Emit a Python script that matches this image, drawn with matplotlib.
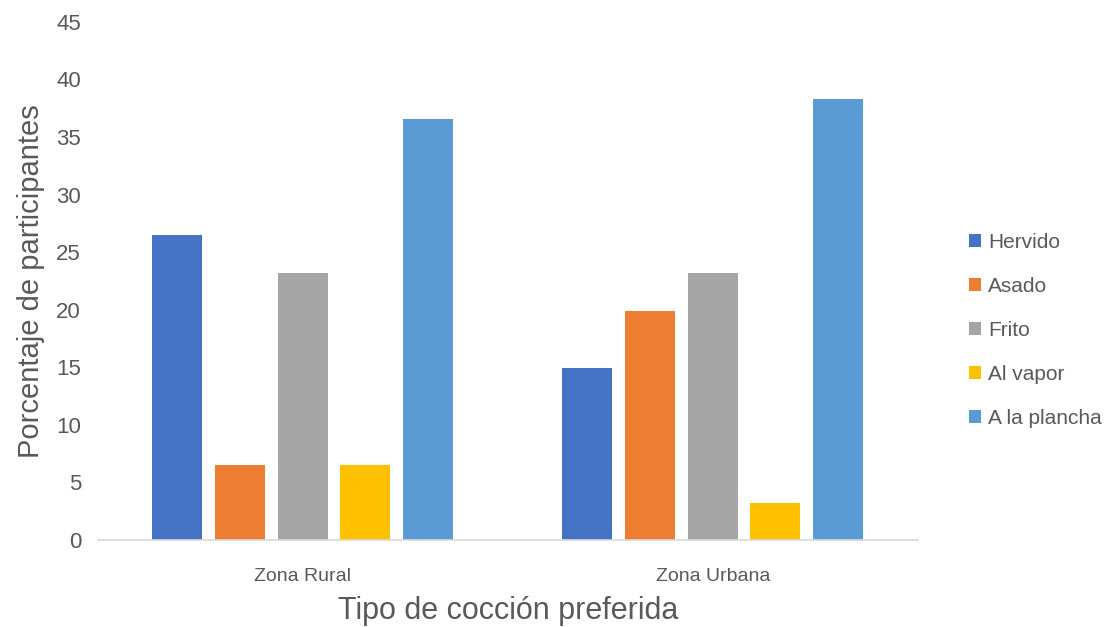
import numpy as np
import matplotlib
matplotlib.use("Agg")
import matplotlib.pyplot as plt

plt.rcParams['font.family'] = ['Liberation Sans', 'DejaVu Sans']

zonas = ['Zona Rural', 'Zona Urbana']
metodos = ['Hervido', 'Asado', 'Frito', 'Al vapor', 'A la plancha']
colores = ['#4472C4', '#ED7D31', '#A5A5A5', '#FFC000', '#5B9BD5']

# porcentaje por zona, en el orden de metodos
rural = [26.5, 6.5, 23.2, 6.5, 36.6]
urbana = [14.9, 19.9, 23.2, 3.2, 38.3]

yticks = [0, 5, 10, 15, 20, 25, 30, 35, 40, 45]

gris = '#595959'

fig = plt.figure(figsize=(11.11, 6.27), dpi=100)
ax = fig.add_axes([0.088, 0.139, 0.738, 0.826])

datos = np.array([rural, urbana])
x = np.arange(len(zonas))
ancho = 0.122
paso = 0.153
for i, (m, c) in enumerate(zip(metodos, colores)):
    off = (i - 2) * paso
    ax.bar(x + off, datos[:, i], width=ancho, color=c, label=m, zorder=2)

ax.set_xlim(-0.5, 1.5)
ax.set_ylim(0, 45)
ax.set_yticks(yticks)
ax.set_xticks(x)
ax.set_xticklabels(zonas, fontsize=14, color=gris)
ax.tick_params(axis='y', labelsize=16, colors=gris, length=0, pad=12)
ax.tick_params(axis='x', length=0, pad=20)

for s in ['top', 'right', 'left']:
    ax.spines[s].set_visible(False)
ax.spines['bottom'].set_color('#d9d9d9')
ax.spines['bottom'].set_linewidth(1.2)

ax.set_ylabel('Porcentaje de participantes', fontsize=21, color=gris, labelpad=8)
ax.set_xlabel('Tipo de cocción preferida', fontsize=22, color=gris, labelpad=8)

fig.legend(loc='center left', bbox_to_anchor=(0.855, 0.473), frameon=False,
           fontsize=15, labelcolor=gris, handlelength=0.6, handleheight=0.6,
           handletextpad=0.35, labelspacing=1.2)

fig.savefig('out.png', dpi=100)
